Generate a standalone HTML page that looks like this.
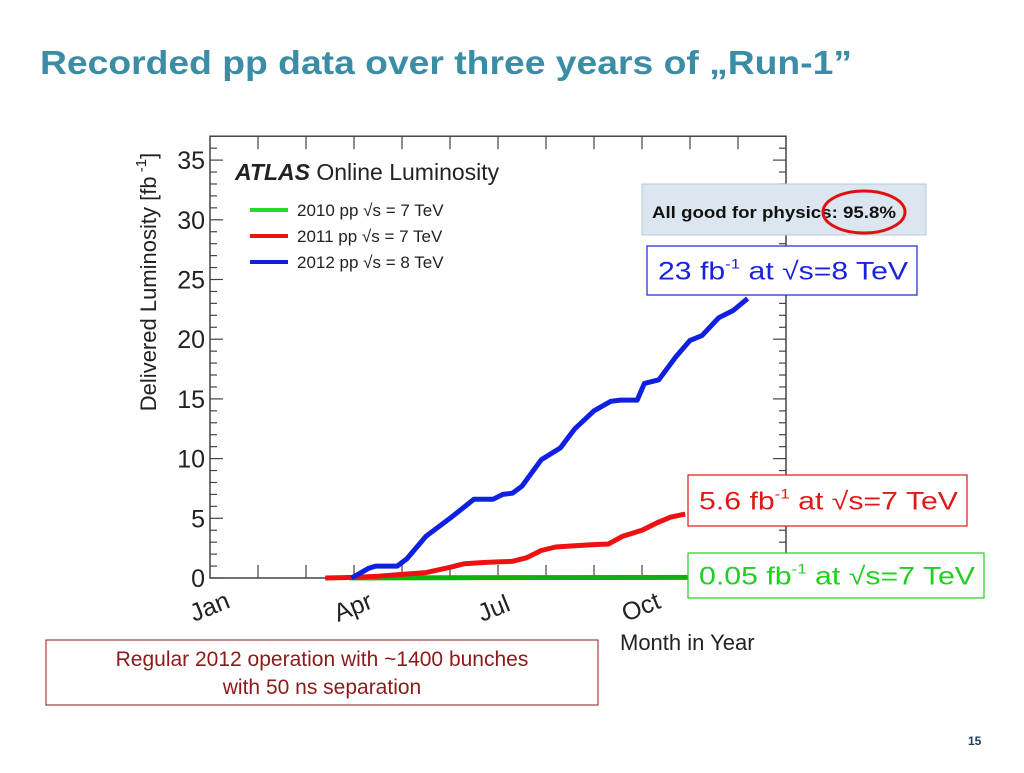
<!DOCTYPE html>
<html><head><meta charset="utf-8"><style>
body{margin:0;background:#fff;width:1024px;height:768px;overflow:hidden;font-family:"Liberation Sans",sans-serif}
</style></head><body>
<svg width="1024" height="768" xmlns="http://www.w3.org/2000/svg" font-family="Liberation Sans, sans-serif">
<text x="40" y="74" font-size="33" font-weight="bold" fill="#3a8da4" textLength="812" lengthAdjust="spacingAndGlyphs">Recorded pp data over three years of „Run-1”</text>
<g id="chart"></g>
<text x="968" y="745" font-size="12" font-weight="bold" fill="#1f3a5a">15</text>
</svg>
<script>
const monthLabels=["Jan","Apr","Jul","Oct"];
const monthLabelIdx=[0,3,6,9];
const yTicks=[0,5,10,15,20,25,30,35];
const blueX=[2.95,3.3,3.45,3.9,4.1,4.5,5.0,5.5,5.9,6.1,6.3,6.5,6.9,7.3,7.6,8.0,8.35,8.55,8.9,9.05,9.35,9.7,10.0,10.25,10.6,10.9,11.2];
const blueY=[0,0.8,1.0,1.0,1.6,3.5,5.0,6.6,6.6,7.0,7.1,7.7,9.9,10.9,12.5,14.0,14.8,14.9,14.9,16.3,16.6,18.5,19.9,20.3,21.8,22.4,23.4];
const redX=[2.4,3.0,3.5,4.0,4.5,5.0,5.3,5.7,6.0,6.3,6.6,6.9,7.2,7.6,8.0,8.3,8.6,9.0,9.3,9.6,9.9];
const redY=[0,0.05,0.15,0.3,0.45,0.9,1.2,1.3,1.35,1.4,1.7,2.3,2.6,2.7,2.8,2.85,3.5,4.0,4.6,5.1,5.35];
const greenX=[2.9,6.0,9.0,9.95];
const greenY=[0.01,0.03,0.045,0.05];

const NS="http://www.w3.org/2000/svg";
const g=document.getElementById('chart');
const X0=210,MW=48,Y0=578,YU=11.94;
const sx=m=>X0+MW*m, sy=v=>Y0-YU*v;
function el(t,a,txt){const e=document.createElementNS(NS,t);for(const k in a)e.setAttribute(k,a[k]);if(txt!=null)e.textContent=txt;g.appendChild(e);return e;}
let f=el('rect',{x:sx(0),y:sy(37),width:MW*12,height:sy(0)-sy(37),fill:'none',stroke:'#444','stroke-width':1.5});

for(let v=0;v<=37;v++){const major=v%5===0;const L=major?13:7;
 let t=el('line',{x1:sx(0),x2:sx(0)+L,y1:sy(v),y2:sy(v),stroke:'#444','stroke-width':1.2});
 
 let r=el('line',{x1:sx(12),x2:sx(12)-L,y1:sy(v),y2:sy(v),stroke:'#444','stroke-width':1.2});
 }
yTicks.forEach(v=>{let t=el('text',{x:sx(0)-5,y:sy(v)+9,'font-size':25,'text-anchor':'end',fill:'#222'},String(v));
 });
for(let m=1;m<12;m++){
 let a=el('line',{x1:sx(m),x2:sx(m),y1:sy(0),y2:sy(0)-13,stroke:'#444','stroke-width':1.2});
 
 let b=el('line',{x1:sx(m),x2:sx(m),y1:sy(37),y2:sy(37)+13,stroke:'#444','stroke-width':1.2});
 }
monthLabels.forEach((s,i)=>{const x=sx(monthLabelIdx[i])-16,y=622;
 let t=el('text',{x:x,y:y,'font-size':25,fill:'#222',transform:`rotate(-22 ${x} ${y})`},s);
 });
let yt=el('text',{x:0,y:0,'font-size':22,fill:'#222','text-anchor':'middle',transform:`translate(156 282) rotate(-90)`});
yt.innerHTML='Delivered Luminosity [fb<tspan font-size="15" dy="-10"> -1</tspan><tspan dy="10">]</tspan>';

let xt=el('text',{x:620,y:650,'font-size':22,fill:'#222'},'Month in Year');

function series(xs,ys,col,name){const d=xs.map((x,i)=>(i?'L':'M')+sx(x).toFixed(1)+' '+sy(ys[i]).toFixed(1)).join(' ');
 let p=el('path',{d:d,fill:'none',stroke:col,'stroke-width':5,'stroke-linejoin':'round'});
 }
series(greenX,greenY,'#10b010','line-2010');
series(redX,redY,'#ee1111','line-2011');
series(blueX,blueY,'#1020e0','line-2012');
let lt=el('text',{x:235,y:180,'font-size':23,fill:'#222'});lt.innerHTML='<tspan font-weight="bold" font-style="italic">ATLAS</tspan> Online Luminosity';

[['#22dd22','2010 pp √s = 7 TeV'],['#ee1111','2011 pp √s = 7 TeV'],['#1020e0','2012 pp √s = 8 TeV']].forEach((e,i)=>{const y=210+i*26;
 let l=el('line',{x1:250,x2:288,y1:y,y2:y,stroke:e[0],'stroke-width':4});
 let t=el('text',{x:297,y:y+6,'font-size':17,fill:'#222'},e[1]);});
let pb=el('rect',{x:642,y:184,width:284,height:51,fill:'#dce6f0',stroke:'#b8c8d8'});
let pt=el('text',{x:652,y:218,'font-size':17,'font-weight':'bold',fill:'#111',textLength:244,lengthAdjust:'spacingAndGlyphs'},'All good for physics: 95.8%');
let ov=el('ellipse',{cx:864,cy:212,rx:41,ry:21,fill:'none',stroke:'#e01010','stroke-width':3});
function box(x,y,w,h,col,txt,name){let r=el('rect',{x:x,y:y,width:w,height:h,fill:'#fff',stroke:col,'stroke-width':1.2});
 let t=el('text',{x:x+11,y:y+h/2+9,'font-size':25,fill:col,textLength:w-20,lengthAdjust:'spacingAndGlyphs'});t.innerHTML=txt;}
box(647,246,270,49,'#1a22dd','23 fb<tspan font-size="14" dy="-11">-1</tspan><tspan dy="11"> at √s=8 TeV</tspan>','lumi-2012');
box(688,475,279,51,'#e01818','5.6 fb<tspan font-size="14" dy="-11">-1</tspan><tspan dy="11"> at √s=7 TeV</tspan>','lumi-2011');
box(688,553,296,45,'#20d020','0.05 fb<tspan font-size="14" dy="-11">-1</tspan><tspan dy="11"> at √s=7 TeV</tspan>','lumi-2010');
let nb=el('rect',{x:46,y:640,width:552,height:65,fill:'#fff',stroke:'#8b1a1a','stroke-width':1});
let n1=el('text',{x:322,y:666,'font-size':21,fill:'#8b1a1a','text-anchor':'middle'},'Regular 2012 operation with ~1400 bunches');
let n2=el('text',{x:322,y:694,'font-size':21,fill:'#8b1a1a','text-anchor':'middle'},'with 50 ns separation');
</script>
</body></html>
